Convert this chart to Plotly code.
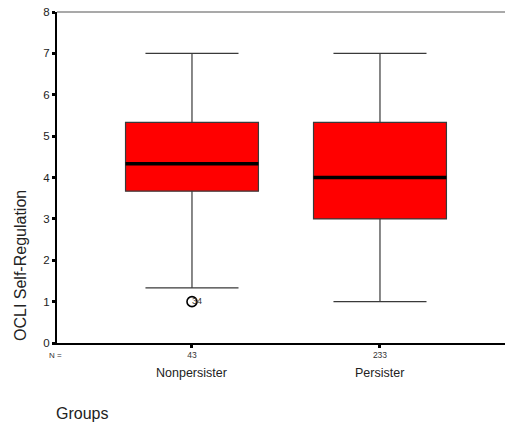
import plotly.graph_objects as go

categories = ["Nonpersister", "Persister"]
positions = [1, 2]
n_values = [43, 233]
lower_whisker = [1.33, 1.0]
q1 = [3.67, 3.0]
median = [4.33, 4.0]
q3 = [5.33, 5.33]
upper_whisker = [7.0, 7.0]
outlier_x = [1]
outlier_y = [1.0]
outlier_labels = ["34"]
y_ticks = [0, 1, 2, 3, 4, 5, 6, 7, 8]

FONT = "Arial, Liberation Sans, sans-serif"
BOX_W = 0.707

fig = go.Figure()
fig.add_trace(go.Box(
    x=positions, q1=q1, median=median, q3=q3,
    lowerfence=lower_whisker, upperfence=upper_whisker,
    width=BOX_W, whiskerwidth=0.7,
    fillcolor="#FF0000", line=dict(color="#3a3a3a", width=1.2),
    boxpoints=False, showlegend=False, hoverinfo="skip",
))
for xp, m in zip(positions, median):
    fig.add_trace(go.Scatter(
        x=[xp - BOX_W / 2, xp + BOX_W / 2], y=[m, m], mode="lines",
        line=dict(color="black", width=3.5), showlegend=False, hoverinfo="skip",
    ))
fig.add_trace(go.Scatter(
    x=outlier_x, y=outlier_y, mode="markers",
    marker=dict(symbol="circle-open", size=10, color="black", line=dict(width=1.6)),
    showlegend=False, hoverinfo="skip",
))
fig.add_trace(go.Scatter(
    x=outlier_x, y=outlier_y, mode="text", text=outlier_labels,
    textposition="middle right", textfont=dict(family=FONT, size=9, color="#333"),
    showlegend=False, hoverinfo="skip",
))

anns = []
for xp, c in zip(positions, categories):
    anns.append(dict(x=xp, xref="x", y=0, yref="paper", yanchor="middle",
                     yshift=-(373 - 343), text=c, showarrow=False,
                     font=dict(size=12.5, color="#222")))
anns.append(dict(x=0, xref="paper", y=0, yref="paper", xanchor="center", yanchor="middle",
                 xshift=-2, yshift=-(355 - 343), text="N =", showarrow=False,
                 font=dict(size=8, color="#333")))
anns.append(dict(x=0, xref="paper", y=0, yref="paper", xanchor="left", yanchor="middle",
                 xshift=-3, yshift=-(413 - 343), text="Groups", showarrow=False,
                 font=dict(size=16, color="#222")))
anns.append(dict(x=0, xref="paper", y=0, yref="paper", xanchor="center", yanchor="middle",
                 xshift=-(57 - 20), yshift=(343 - 266), text="OCLI Self-Regulation",
                 textangle=-90, showarrow=False, font=dict(size=16, color="#222")))

fig.update_layout(
    width=506, height=425,
    margin=dict(l=57, r=1, t=12, b=82),
    plot_bgcolor="white", paper_bgcolor="white",
    font=dict(family=FONT, color="#222"),
    xaxis=dict(
        range=[0.282, 2.665], tickmode="array", tickvals=positions,
        ticktext=[str(n) for n in n_values],
        tickfont=dict(size=8.5, color="#333"),
        ticks="outside", ticklen=3, tickwidth=3, tickcolor="black",
        showline=True, linecolor="black", linewidth=2,
        showgrid=False, zeroline=False,
    ),
    yaxis=dict(
        range=[0, 8], tickmode="array", tickvals=y_ticks,
        tickfont=dict(size=11.5, color="#222"),
        ticks="outside", ticklen=3, tickwidth=3, tickcolor="black",
        showline=True, linecolor="black", linewidth=2,
        showgrid=False, zeroline=False,
    ),
    shapes=[dict(type="line", xref="paper", yref="paper", x0=0, x1=1, y0=1, y1=1,
                 line=dict(color="#555", width=1.2))],
    annotations=anns,
)

fig.write_html("out.html", config={"displayModeBar": False},
               post_script="document.body.style.margin='0';")
